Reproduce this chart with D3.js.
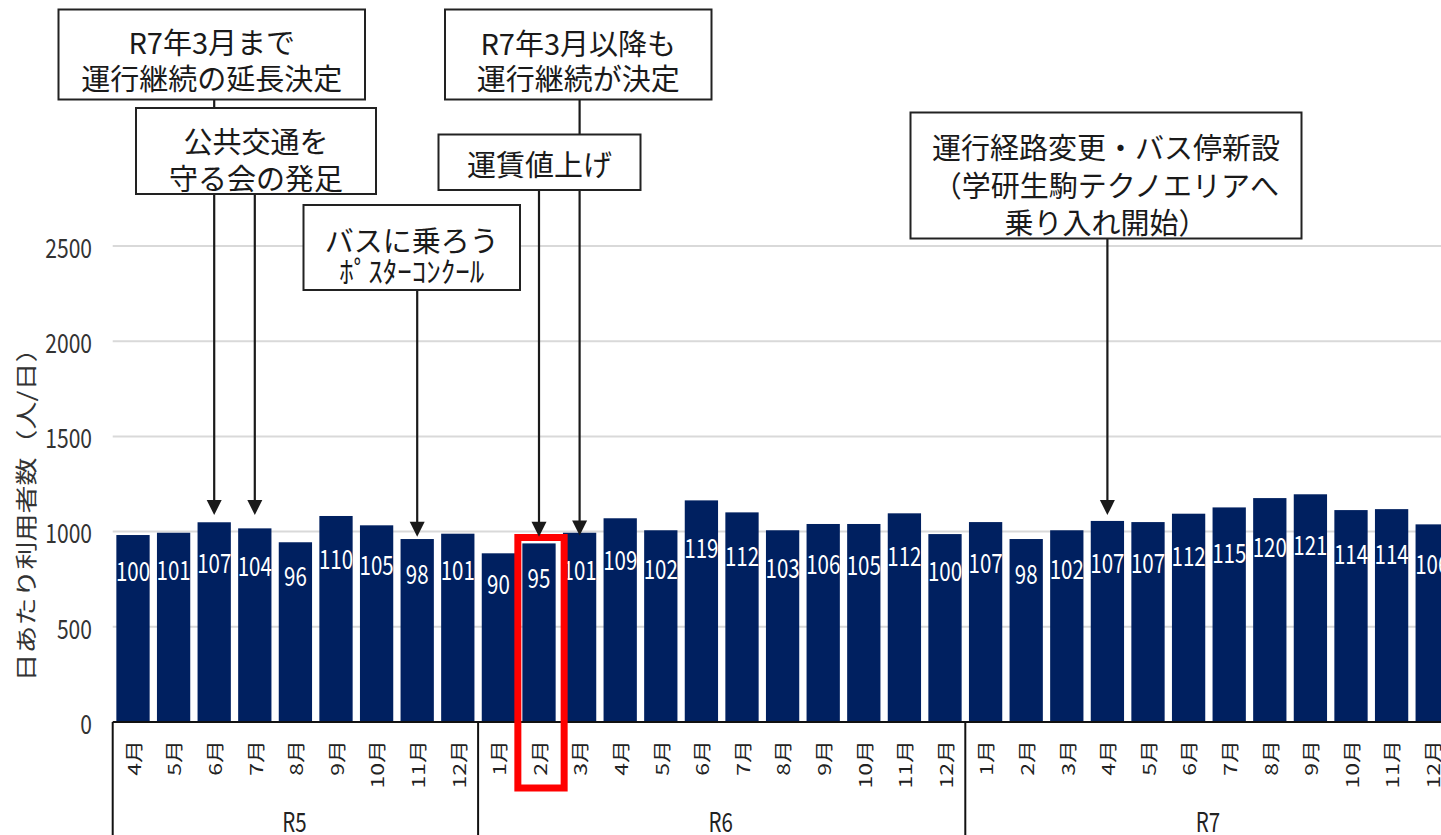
<!DOCTYPE html>
<html><head><meta charset="utf-8">
<script src="https://cdn.jsdelivr.net/npm/d3@7"></script>
<style>
html,body{margin:0;padding:0;background:#fff;overflow:hidden;}
svg{display:block;}
</style></head>
<body>
<svg id="chart" width="1441" height="835"></svg>
<script>
// ---------- data ----------
const years = ["R5", "R6", "R7"];
const monthsR5 = ["4月","5月","6月","7月","8月","9月","10月","11月","12月"];
const monthsR6 = ["1月","2月","3月","4月","5月","6月","7月","8月","9月","10月","11月","12月"];
const monthsR7 = ["1月","2月","3月","4月","5月","6月","7月","8月","9月","10月","11月","12月"];
const valuesR5 = [982, 994, 1049, 1017, 944, 1082, 1033, 961, 989];
const valuesR6 = [886, 938, 994, 1070, 1007, 1164, 1101, 1007, 1040, 1040, 1096, 987];
const valuesR7 = [1050, 961, 1007, 1056, 1050, 1094, 1127, 1176, 1196, 1113, 1118, 1038];
const labelsR5 = [100, 101, 107, 104, 96, 110, 105, 98, 101];
const labelsR6 = [90, 95, 101, 109, 102, 119, 112, 103, 106, 105, 112, 100];
const labelsR7 = [107, 98, 102, 107, 107, 112, 115, 120, 121, 114, 114, 106];
const yTicks = [0, 500, 1000, 1500, 2000, 2500];
const yTitle = "日あたり利用者数（人/日）";

// annotations: text lines, target (year, month), arrow tip value
const annoTexts = [
  ["R7年3月まで", "運行継続の延長決定"],
  ["公共交通を", "守る会の発足"],
  ["R7年3月以降も", "運行継続が決定"],
  ["運賃値上げ"],
  ["バスに乗ろう", "ﾎﾟｽﾀｰｺﾝｸｰﾙ"],
  ["運行経路変更・バス停新設", "（学研生駒テクノエリアへ", "乗り入れ開始）"]
];
const annoTargets = [["R5","6月"], ["R5","7月"], ["R6","3月"], ["R6","2月"], ["R5","11月"], ["R7","4月"]];
const annoTipValues = [1087, 1087, 980, 973, 973, 1087];
const highlight = ["R6", "2月"];

// ---------- build rows ----------
const rows = [];
[[monthsR5, valuesR5, labelsR5], [monthsR6, valuesR6, labelsR6], [monthsR7, valuesR7, labelsR7]]
  .forEach(([ms, vs, ls], gi) => ms.forEach((m, i) => rows.push({key: years[gi] + "-" + m, year: years[gi], month: m, value: vs[i], label: ls[i]})));

// ---------- layout ----------
const svg = d3.select("#chart");
const plotLeft = 112.7, plotRight = 1452.5, plotTop = 246, plotBottom = 722;
const FONT = "'Noto Sans CJK JP', 'Noto Sans', sans-serif";

const x = d3.scaleBand().domain(rows.map(d => d.key)).range([plotLeft, plotRight]).paddingInner(0.18).paddingOuter(0.09);
const y = d3.scaleLinear().domain([0, 2500]).range([plotBottom, plotTop]);
const labelY = d3.scaleLinear().domain([90, 121]).range([582, 543.5]);
const cx = k => x(k) + x.bandwidth() / 2;

// gridlines
svg.append("g").selectAll("line").data(yTicks.filter(t => t > 0)).join("line")
  .attr("x1", plotLeft).attr("x2", 1441).attr("y1", d => y(d)).attr("y2", d => y(d))
  .attr("stroke", "#d9d9d9").attr("stroke-width", 2);

// y tick labels
svg.append("g").selectAll("text").data(yTicks).join("text")
  .attr("transform", d => `translate(92,${y(d)}) scale(0.78,1)`)
  .attr("text-anchor", "end").attr("dominant-baseline", "central")
  .attr("font-family", FONT).attr("font-size", 27).attr("fill", "#333")
  .text(d => d);

// y title
svg.append("text")
  .attr("transform", `translate(24,508) scale(0.78,1) rotate(-90)`)
  .attr("text-anchor", "middle").attr("dominant-baseline", "central")
  .attr("font-family", FONT).attr("font-size", 28).attr("fill", "#333")
  .text(yTitle);

// bars
svg.append("g").selectAll("rect").data(rows).join("rect")
  .attr("x", d => x(d.key)).attr("width", x.bandwidth())
  .attr("y", d => y(d.value)).attr("height", d => y(0) - y(d.value))
  .attr("fill", "#002060");

// bar labels
svg.append("g").selectAll("text").data(rows).join("text")
  .attr("transform", d => `translate(${cx(d.key)},${labelY(d.label)}) scale(0.76,1)`)
  .attr("text-anchor", "middle").attr("dominant-baseline", "central")
  .attr("font-family", FONT).attr("font-size", 27).attr("fill", "#fff")
  .text(d => d.label);

// category axis
const axisG = svg.append("g").attr("stroke", "#111").attr("stroke-width", 2);
axisG.append("line").attr("x1", plotLeft).attr("x2", 1441).attr("y1", plotBottom).attr("y2", plotBottom);
years.forEach((yr, gi) => {
  const ks = rows.filter(r => r.year === yr).map(r => r.key);
  const left = gi === 0 ? plotLeft : x(ks[0]) - x.step() * x.paddingInner() / 2;
  axisG.append("line").attr("x1", left).attr("x2", left).attr("y1", plotBottom).attr("y2", 835);
});

// month labels
svg.append("g").selectAll("text").data(rows).join("text")
  .attr("transform", d => `translate(${cx(d.key)},740) scale(0.78,1) rotate(-90)`)
  .attr("text-anchor", "end").attr("dominant-baseline", "central")
  .attr("font-family", FONT).attr("font-size", 23).attr("fill", "#222")
  .text(d => d.month);

// year labels
svg.append("g").selectAll("text").data(years).join("text")
  .attr("transform", yr => {
    const ks = rows.filter(r => r.year === yr).map(r => r.key);
    const a = x(ks[0]) - x.step() * x.paddingInner() / 2;
    const b = x(ks[ks.length - 1]) + x.bandwidth() + x.step() * x.paddingInner() / 2;
    return `translate(${(a + b) / 2 - 1},820) scale(0.76,1)`;
  })
  .attr("text-anchor", "middle").attr("dominant-baseline", "central")
  .attr("font-family", FONT).attr("font-size", 27).attr("fill", "#222")
  .text(d => d);

// highlight rectangle
const hk = highlight[0] + "-" + highlight[1];
svg.append("rect")
  .attr("x", x(hk) - 4.5).attr("y", y(0) - 184.5)
  .attr("width", x.bandwidth() + 13).attr("height", 250.5)
  .attr("fill", "none").attr("stroke", "#ff0000").attr("stroke-width", 7);

// annotation boxes layout
const boxes = [
  {x: 58.5, y: 9.5, w: 306.5, h: 90, lines: [41, 77]},
  {x: 136, y: 108, w: 240, h: 86, lines: [140, 177]},
  {x: 445, y: 9.5, w: 266.5, h: 90, lines: [42, 77]},
  {x: 438.5, y: 134.5, w: 202, h: 55.5, lines: [163]},
  {x: 303.5, y: 205, w: 216.5, h: 85, lines: [239, 270]},
  {x: 910.5, y: 112.5, w: 391, h: 126, lines: [146, 184, 221]}
];

// arrows (drawn before boxes so that boxes cover pass-through lines)
const arrowG = svg.append("g");
annoTargets.forEach((t, i) => {
  const k = t[0] + "-" + t[1];
  const ax = cx(k);
  const tip = y(annoTipValues[i]);
  const b = boxes[i];
  arrowG.append("line").attr("x1", ax).attr("x2", ax).attr("y1", b.y + b.h).attr("y2", tip - 13)
    .attr("stroke", "#1a1a1a").attr("stroke-width", 2.2);
  arrowG.append("path").attr("d", `M${ax - 7.5},${tip - 15} L${ax + 7.5},${tip - 15} L${ax},${tip} Z`)
    .attr("fill", "#1a1a1a");
});

const boxG = svg.append("g");
boxes.forEach((b, i) => {
  boxG.append("rect").attr("x", b.x).attr("y", b.y).attr("width", b.w).attr("height", b.h)
    .attr("fill", "#fff").attr("stroke", "#222").attr("stroke-width", 2);
  annoTexts[i].forEach((line, j) => {
    boxG.append("text").attr("x", b.x + b.w / 2).attr("y", b.lines[j])
      .attr("text-anchor", "middle").attr("dominant-baseline", "central")
      .attr("font-family", FONT).attr("font-size", 29).attr("fill", "#1a1a1a")
      .text(line);
  });
});
</script>
</body></html>
